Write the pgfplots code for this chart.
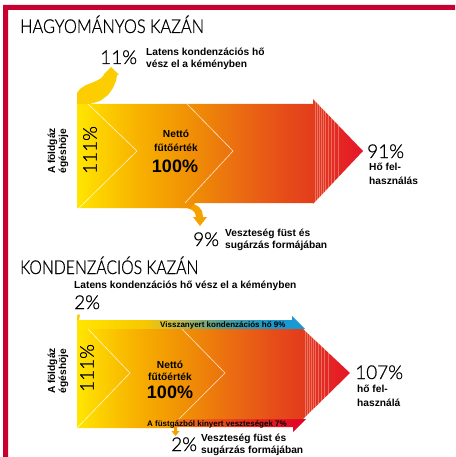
\documentclass[border=0pt]{standalone}
\usepackage{pgfplots}
\pgfplotsset{compat=1.18}
\usepackage{fontspec}
\setmainfont{Liberation Sans}
\newfontfamily\thinfont[FakeBold=0.8]{Lato Light}
\definecolor{frame}{RGB}{200,0,50}
\definecolor{upbranch}{RGB}{252,205,0}
\definecolor{downbranch}{RGB}{244,162,0}
\pgfdeclarehorizontalshading{upbody}{100bp}{rgb(0bp)=(1,0.9,0); rgb(25bp)=(1,0.9,0); rgb(29bp)=(0.99,0.82,0); rgb(36bp)=(0.97,0.69,0); rgb(45bp)=(0.94,0.56,0.02); rgb(53.5bp)=(0.92,0.42,0.07); rgb(62bp)=(0.9,0.29,0.1); rgb(66bp)=(0.89,0.24,0.11); rgb(75bp)=(0.9,0.08,0.16); rgb(100bp)=(0.9,0.08,0.16)}
\pgfdeclarehorizontalshading{blueband}{100bp}{rgb(0bp)=(1,0.9,0); rgb(25bp)=(1,0.9,0); rgb(40bp)=(0.97,0.78,0); rgb(47bp)=(0.75,0.72,0.3); rgb(57bp)=(0.3,0.62,0.6); rgb(67bp)=(0.1,0.6,0.8); rgb(75bp)=(0.1,0.6,0.85); rgb(100bp)=(0.1,0.6,0.85)}
\pgfdeclarehorizontalshading{redband}{100bp}{rgb(0bp)=(0.93,0.45,0.1); rgb(25bp)=(0.93,0.45,0.1); rgb(50bp)=(0.9,0.2,0.12); rgb(75bp)=(0.88,0,0.15); rgb(100bp)=(0.88,0,0.15)}
\newcommand\lab{\fontsize{10.2}{12}\selectfont\bfseries}
\newcommand\smlab{\fontsize{8}{9}\selectfont\bfseries}
\newcommand\bigpct{\thinfont\fontsize{19}{20}\selectfont}
\newcommand\ttl{\thinfont\fontsize{19}{20}\selectfont}
\begin{document}
\begin{tikzpicture}
\begin{axis}[width=455pt,height=457pt,scale only axis,xmin=0,xmax=455,ymin=0,ymax=457,y dir=reverse,hide axis,clip=false]
% bounding
\addplot[draw=none] coordinates {(0,0) (455,457)};
% frame
\addplot[draw=none,fill=frame] coordinates {(3,5) (455,5) (455,10) (8,10) (8,457) (3,457)} --cycle;
% ---------- upper diagram ----------
\addplot[draw=none,fill=upbranch] coordinates {(77,104) (77,93) (80,89) (86,85) (94,82) (100,79) (104,75) (103,75) (111,67) (119,75) (117,75) (116,81) (113,88) (108,95) (100,101) (90,104)} --cycle;
\addplot[draw=none,fill=downbranch] coordinates {(188,203) (194,204) (199,207) (202,211) (203,217) (207,217) (200,226) (193,217) (196,217) (195,213) (192,210) (187,208) (180,208)} --cycle;
\addplot[draw=none,shading=upbody] coordinates {(77,104) (313,104) (313,99) (363,151) (313,204) (313,203) (195,203) (190,208) (77,208)} --cycle;
\addplot[white,opacity=0.8,line width=0.6pt] coordinates {(88,104) (137,151) (79,208)};
\addplot[white,opacity=0.8,line width=0.6pt] coordinates {(187,104) (233,151) (185,203)};
\addplot[white,opacity=0.3,line width=0.5pt] coordinates {(315,101) (315,202)};
\addplot[white,opacity=0.3,line width=0.5pt] coordinates {(317,103) (317,200)};
\addplot[white,opacity=0.3,line width=0.5pt] coordinates {(319,105) (319,198)};
\addplot[white,opacity=0.3,line width=0.5pt] coordinates {(321,107) (321,195)};
\addplot[white,opacity=0.3,line width=0.5pt] coordinates {(323,109) (323,193)};
\addplot[white,opacity=0.3,line width=0.5pt] coordinates {(325,111) (325,191)};
\addplot[white,opacity=0.3,line width=0.5pt] coordinates {(328,115) (328,188)};
\addplot[white,opacity=0.3,line width=0.5pt] coordinates {(331,118) (331,185)};
\addplot[white,opacity=0.3,line width=0.5pt] coordinates {(334,121) (334,182)};
\addplot[white,opacity=0.3,line width=0.5pt] coordinates {(338,125) (338,177)};
% ---------- lower diagram ----------
\addplot[draw=none,fill=upbranch] coordinates {(77,320) (77,316) (78,314) (80,315) (79,320)} --cycle;
\addplot[draw=none,shading=blueband] coordinates {(77,320) (292,320) (292,316) (305,329) (77,329)} --cycle;
\addplot[draw=none,shading=redband] coordinates {(177,419) (306,419) (293,432) (293,427) (177,427)} --cycle;
\addplot[draw=none,fill=downbranch] coordinates {(174,427) (177,427) (177,431) (179.5,431) (175.5,436) (171.5,431) (174,431)} --cycle;
\addplot[draw=none,shading=upbody] coordinates {(77,329) (303,329) (350,373) (303,419) (177,419) (177,428) (77,428)} --cycle;
\addplot[white,opacity=0.8,line width=0.6pt] coordinates {(88,329) (130,373) (77,428)};
\addplot[white,opacity=0.8,line width=0.6pt] coordinates {(182,329) (225,373) (179,419)};
\addplot[white,opacity=0.3,line width=0.5pt] coordinates {(305,331) (305,417)};
\addplot[white,opacity=0.3,line width=0.5pt] coordinates {(307,333) (307,415)};
\addplot[white,opacity=0.3,line width=0.5pt] coordinates {(309,335) (309,413)};
\addplot[white,opacity=0.3,line width=0.5pt] coordinates {(311,337) (311,411)};
\addplot[white,opacity=0.3,line width=0.5pt] coordinates {(313,338) (313,409)};
\addplot[white,opacity=0.3,line width=0.5pt] coordinates {(315,340) (315,407)};
\addplot[white,opacity=0.3,line width=0.5pt] coordinates {(318,343) (318,404)};
\addplot[white,opacity=0.3,line width=0.5pt] coordinates {(321,346) (321,401)};
\addplot[white,opacity=0.3,line width=0.5pt] coordinates {(324,349) (324,398)};
\addplot[white,opacity=0.3,line width=0.5pt] coordinates {(328,352) (328,394)};
% ---------- texts upper ----------
\node[anchor=base west,inner sep=0] at (axis cs:20,33) {\ttl\scalebox{0.86}[1]{HAGYOMÁNYOS KAZÁN}};
\node[anchor=base west,inner sep=0] at (axis cs:100,64) {\bigpct 11\%};
\node[anchor=base west,inner sep=0] at (axis cs:146,55.5) {\lab\begin{tabular}[t]{@{}l@{}}Latens kondenzációs hő\\vész el a kéményben\end{tabular}};
\node[rotate=90,align=center,inner sep=0,font=\lab] at (axis cs:58,151) {A földgáz\\[-1pt]égéshöje};
\node[rotate=90,inner sep=0] at (axis cs:90,150) {\bigpct 111\%};
\node[anchor=base,inner sep=0] at (axis cs:176,138) {\lab Nettó};
\node[anchor=base,inner sep=0] at (axis cs:176,151) {\lab fűtőérték};
\node[anchor=base,inner sep=0] at (axis cs:175,172) {\fontsize{18}{20}\selectfont\bfseries 100\%};
\node[anchor=base west,inner sep=0] at (axis cs:367,158) {\bigpct 91\%};
\node[anchor=base west,inner sep=0] at (axis cs:369,171) {\lab Hő fel-};
\node[anchor=base west,inner sep=0] at (axis cs:369,184) {\lab használás};
\node[anchor=base west,inner sep=0] at (axis cs:193,246) {\bigpct 9\%};
\node[anchor=base west,inner sep=0] at (axis cs:225,236) {\lab Veszteség füst és};
\node[anchor=base west,inner sep=0] at (axis cs:225,248) {\lab sugárzás formájában};
% ---------- texts lower ----------
\node[anchor=base west,inner sep=0] at (axis cs:20,274) {\ttl\scalebox{0.83}[1]{KONDENZÁCIÓS KAZÁN}};
\node[anchor=base west,inner sep=0] at (axis cs:74,288) {\lab Latens kondenzációs hő vész el a kéményben};
\node[anchor=base west,inner sep=0] at (axis cs:74,309) {\bigpct 2\%};
\node[anchor=base west,inner sep=0] at (axis cs:160,327) {\smlab Visszanyert kondenzációs hő 9\%};
\node[rotate=90,align=center,inner sep=0,font=\lab] at (axis cs:58,371) {A földgáz\\[-1pt]égéshöje};
\node[rotate=90,inner sep=0] at (axis cs:87,368) {\bigpct 111\%};
\node[anchor=base,inner sep=0] at (axis cs:170,368) {\lab Nettó};
\node[anchor=base,inner sep=0] at (axis cs:170,380) {\lab fűtőérték};
\node[anchor=base,inner sep=0] at (axis cs:170,398) {\fontsize{18}{20}\selectfont\bfseries 100\%};
\node[anchor=base west,inner sep=0] at (axis cs:355,379) {\bigpct 107\%};
\node[anchor=base west,inner sep=0] at (axis cs:357,392) {\lab hő fel-};
\node[anchor=base west,inner sep=0] at (axis cs:357,406) {\lab használá};
\node[anchor=base west,inner sep=0] at (axis cs:147,426) {\smlab A füstgázból kinyert veszteségek 7\%};
\node[anchor=base west,inner sep=0] at (axis cs:171,451) {\bigpct 2\%};
\node[anchor=base west,inner sep=0] at (axis cs:201,441) {\lab Veszteség füst és};
\node[anchor=base west,inner sep=0] at (axis cs:201,453) {\lab sugárzás formájában};
\end{axis}
\end{tikzpicture}
\end{document}
